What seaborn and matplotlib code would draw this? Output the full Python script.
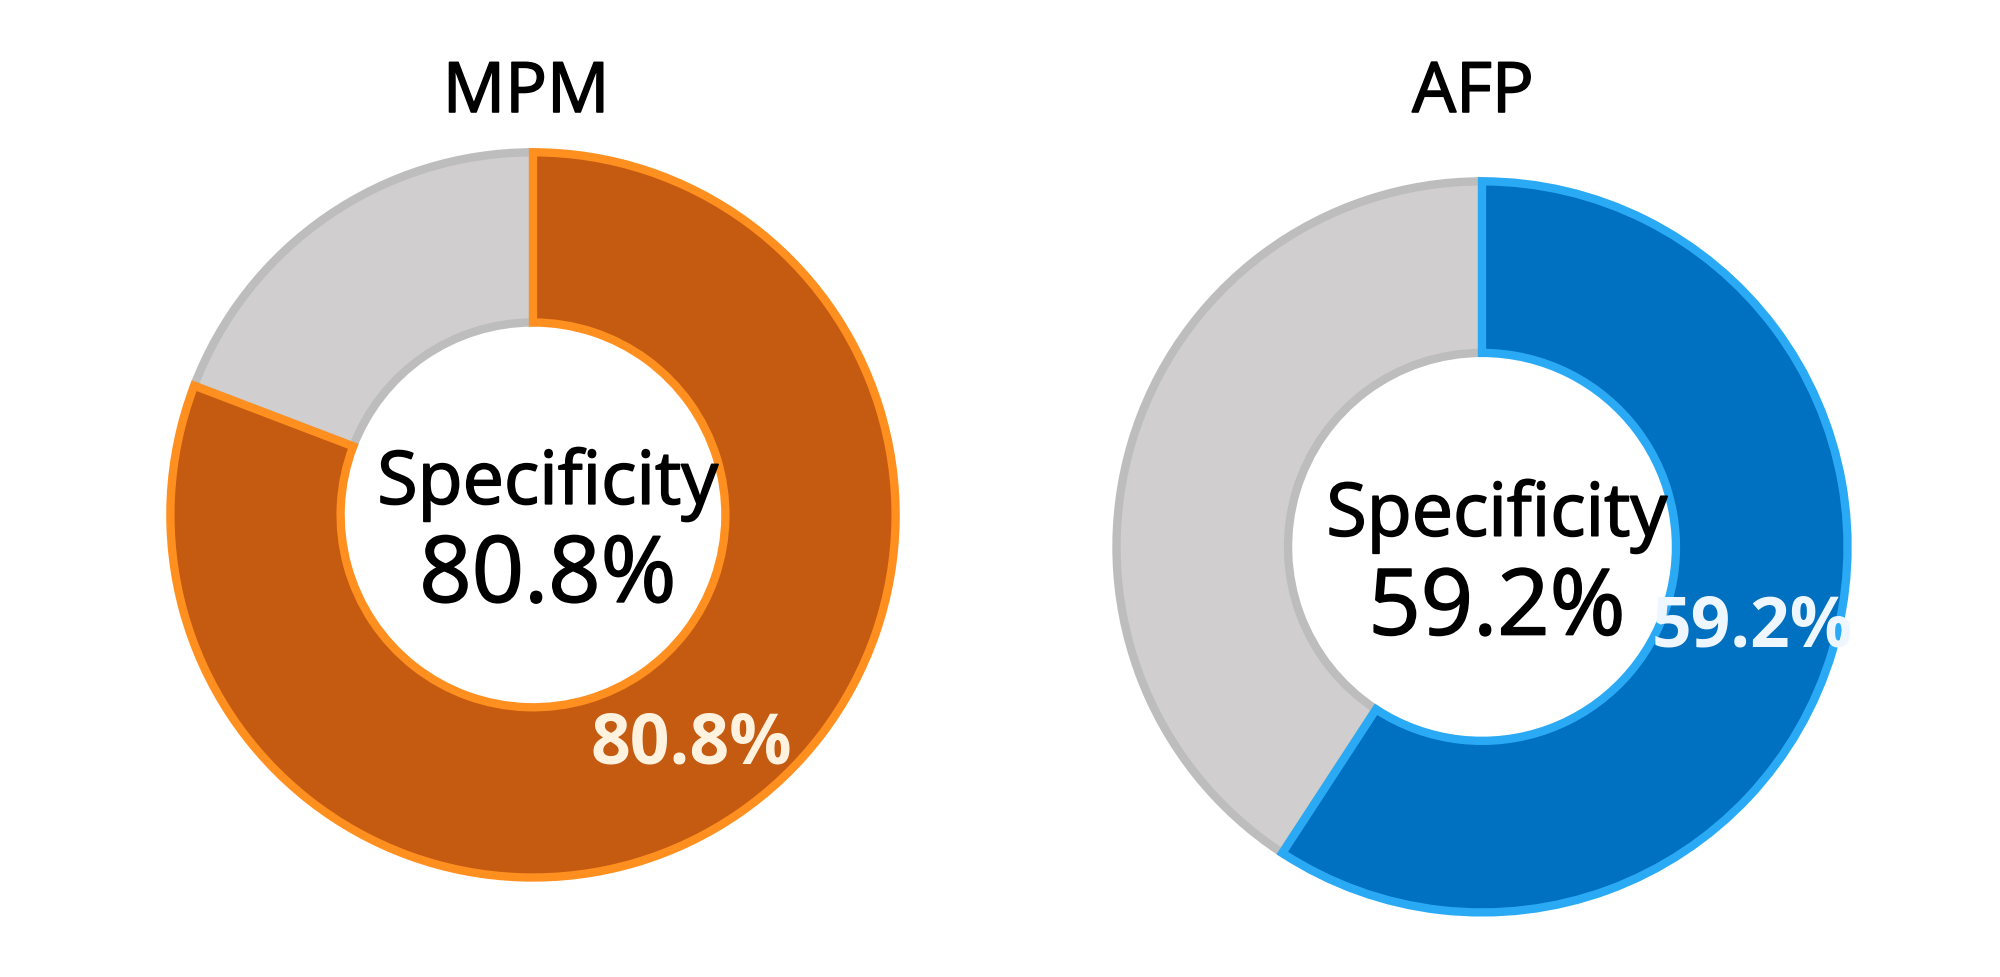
import matplotlib
matplotlib.use("Agg")
import matplotlib.pyplot as plt
import matplotlib.patheffects as pe
import seaborn as sns

# ---- data ----
titles = ["MPM", "AFP"]
center_label = "Specificity"
positive_pct = [80.8, 59.2]
remaining_pct = [100 - v for v in positive_pct]
fill_colors = ["#C55A11", "#0070C0"]
edge_colors = ["#FF8F1F", "#2AAAF5"]
rest_fill = "#D0CECE"
rest_edge = "#BDBDBD"
label_colors = ["#FFF3E0", "#EEF7FF"]

sns.set_theme(style="white")
plt.rcParams["font.family"] = ["Open Sans", "DejaVu Sans"]

fig = plt.figure(figsize=(20, 9.78), dpi=100)
fig.patch.set_facecolor("white")

# axes positions [left, bottom, width, height] in figure fraction
positions = [[0.0815, 0.094, 0.37, 0.757], [0.5545, 0.0583, 0.373, 0.763]]
title_x = [0.263, 0.7365]
heavier = [pe.withStroke(linewidth=1.2, foreground="black")]

for i in range(2):
    ax = fig.add_axes(positions[i])
    vals = [positive_pct[i], remaining_pct[i]]
    wedges, texts, autotexts = ax.pie(
        vals,
        startangle=90,
        counterclock=False,
        radius=0.98,
        colors=[fill_colors[i], rest_fill],
        autopct="%1.1f%%",
        pctdistance=0.77,
        wedgeprops=dict(width=0.46, linewidth=6),
        textprops=dict(fontsize=50, fontweight="bold"),
    )
    wedges[0].set_edgecolor(edge_colors[i])
    wedges[1].set_edgecolor(rest_edge)
    wedges[1].set_zorder(wedges[0].get_zorder() - 0.1)
    autotexts[0].set_color(label_colors[i])
    autotexts[1].set_visible(False)
    ax.text(0.04, 0.03, center_label, ha="center", va="baseline",
            fontsize=53, color="black", path_effects=heavier)
    ax.text(0.04, -0.235, f"{positive_pct[i]:.1f}%", ha="center", va="baseline",
            fontsize=66, color="black", path_effects=heavier)
    ax.set_xlim(-1, 1)
    ax.set_ylim(-1, 1)
    ax.set_aspect("equal")
    ax.axis("off")
    fig.text(title_x[i], 0.8845, titles[i], ha="center", va="baseline",
             fontsize=50, color="black", path_effects=heavier)

fig.savefig("out.png", dpi=100, facecolor="white")
